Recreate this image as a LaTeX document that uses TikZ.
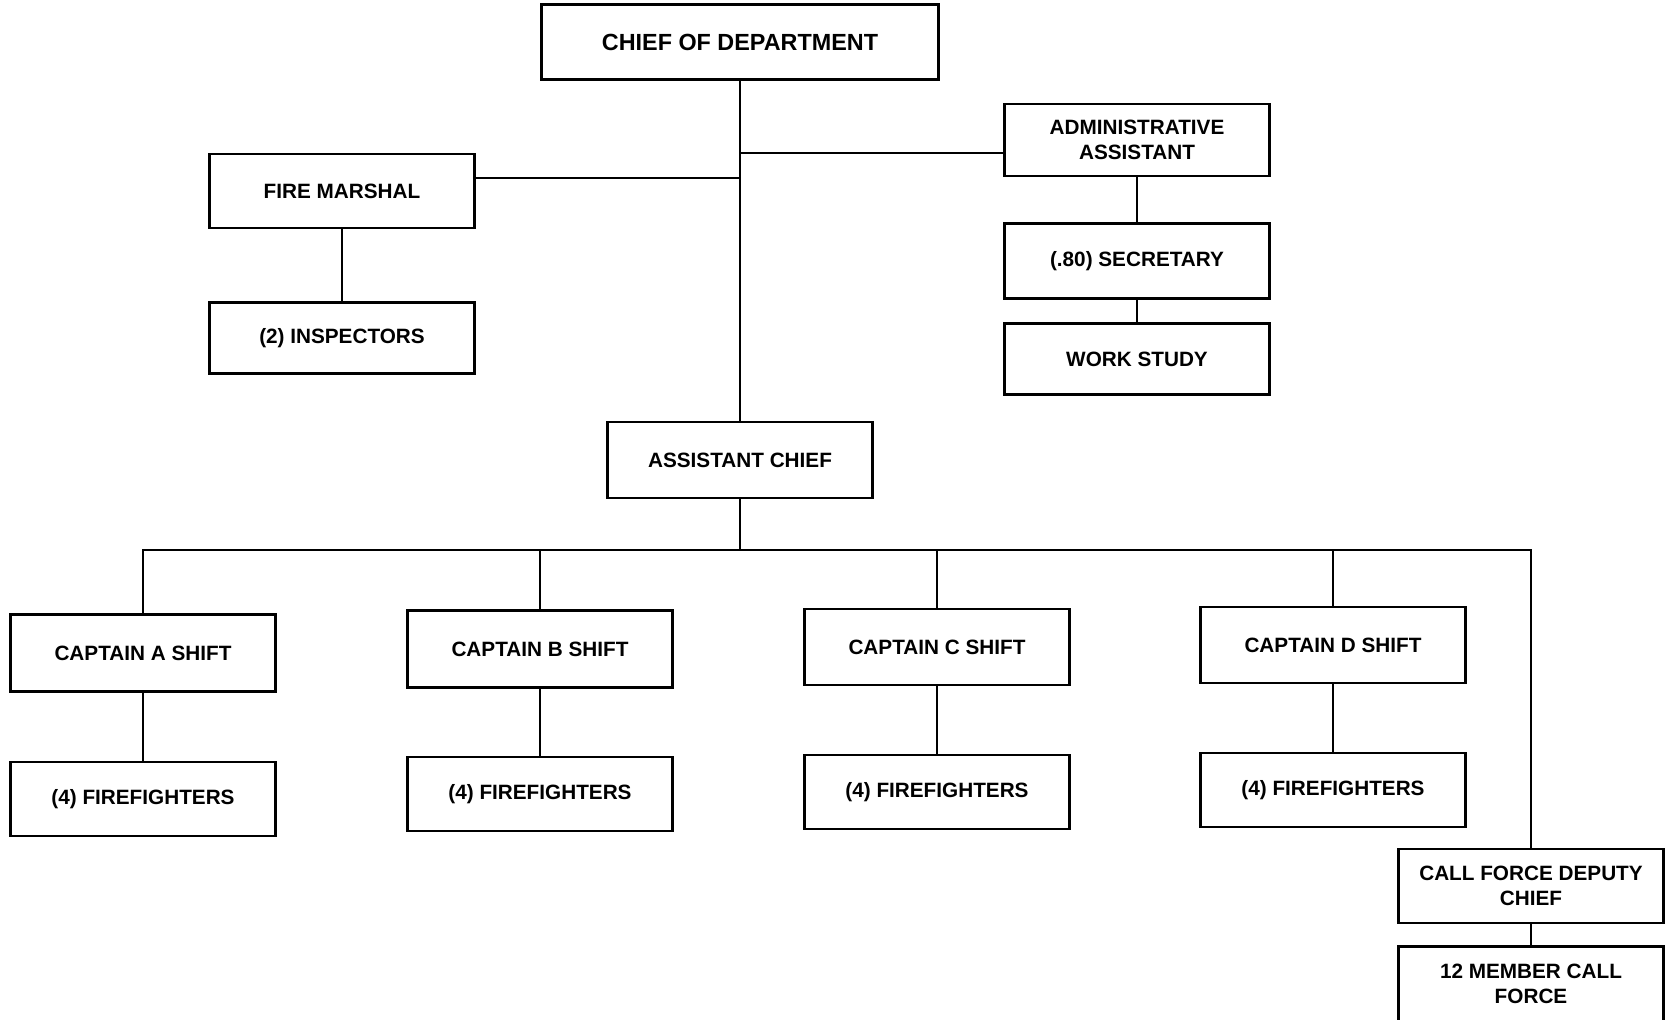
\documentclass[tikz,border=0pt]{standalone}
\usepackage{fontspec}
\setmainfont{Liberation Sans}
\usepackage{tikz}
\tikzset{box/.style={draw, rectangle, line width=1.2pt, minimum width=5.3cm,
        minimum height=1.47cm, align=center, inner sep=2pt,
        font=\fontsize{11.8}{14}\selectfont\bfseries},
    link/.style={draw, line width=0.9pt}}

\begin{document}
\begin{tikzpicture}[x=0.02cm, y=-0.02cm]
    \useasboundingbox (0,0) rectangle (1667,1019);
    \clip (0,0) rectangle (1667,1019);
    % top of the chart
    \node[box, minimum width=7.94cm, minimum height=1.5cm,
        font=\fontsize{13.3}{15}\selectfont\bfseries] (chief) at (740,42) {CHIEF OF DEPARTMENT};
    \node[box] (marshal) at (342,191) {FIRE MARSHAL};
    \node[box, minimum height=1.42cm] (insp) at (342,338) {(2) INSPECTORS};
    \node[box, minimum height=1.44cm] (admin) at (1137,140) {ADMINISTRATIVE\\ASSISTANT};
    \node[box, minimum height=1.5cm] (secr) at (1137,261) {(.80) SECRETARY};
    \node[box, minimum height=1.42cm] (work) at (1137,359) {WORK STUDY};
    \node[box, minimum height=1.52cm] (asst) at (740,460) {ASSISTANT CHIEF};
    % shifts
    \node[box, minimum height=1.54cm] (capA) at (143,653) {CAPTAIN A SHIFT};
    \node[box] (ffA) at (143,799) {(4) FIREFIGHTERS};
    \node[box, minimum height=1.54cm] (capB) at (540,649) {CAPTAIN B SHIFT};
    \node[box] (ffB) at (540,794) {(4) FIREFIGHTERS};
    \node[box, minimum height=1.52cm] (capC) at (937,647) {CAPTAIN C SHIFT};
    \node[box] (ffC) at (937,792) {(4) FIREFIGHTERS};
    \node[box, minimum height=1.52cm] (capD) at (1333,645) {CAPTAIN D SHIFT};
    \node[box] (ffD) at (1333,790) {(4) FIREFIGHTERS};
    \node[box] (call) at (1531,886) {CALL FORCE DEPUTY\\CHIEF};
    \node[box, minimum height=1.5cm] (member) at (1531,984) {12 MEMBER CALL\\FORCE};
    % joints
    \coordinate (adminj) at (740,153);
    \coordinate (marshalj) at (740,178);
    \coordinate (busj) at (740,550);
    % connectors
    \draw[link] (chief.south) -- (asst.north);
    \draw[link] (marshalj) -- (marshal.east |- marshalj);
    \draw[link] (adminj) -- (admin.west |- adminj);
    \draw[link] (marshal) -- (insp);
    \draw[link] (admin) -- (secr);
    \draw[link] (secr) -- (work);
    \draw[link] (asst.south) -- (busj);
    \draw[link] (capA.north) |- (busj) -| (call.north);
    \foreach \c in {capB, capC, capD}
        \draw[link] (\c.north) -- (\c.north |- busj);
    \draw[link] (capA) -- (ffA);
    \draw[link] (capB) -- (ffB);
    \draw[link] (capC) -- (ffC);
    \draw[link] (capD) -- (ffD);
    \draw[link] (call) -- (member);
\end{tikzpicture}
\end{document}
